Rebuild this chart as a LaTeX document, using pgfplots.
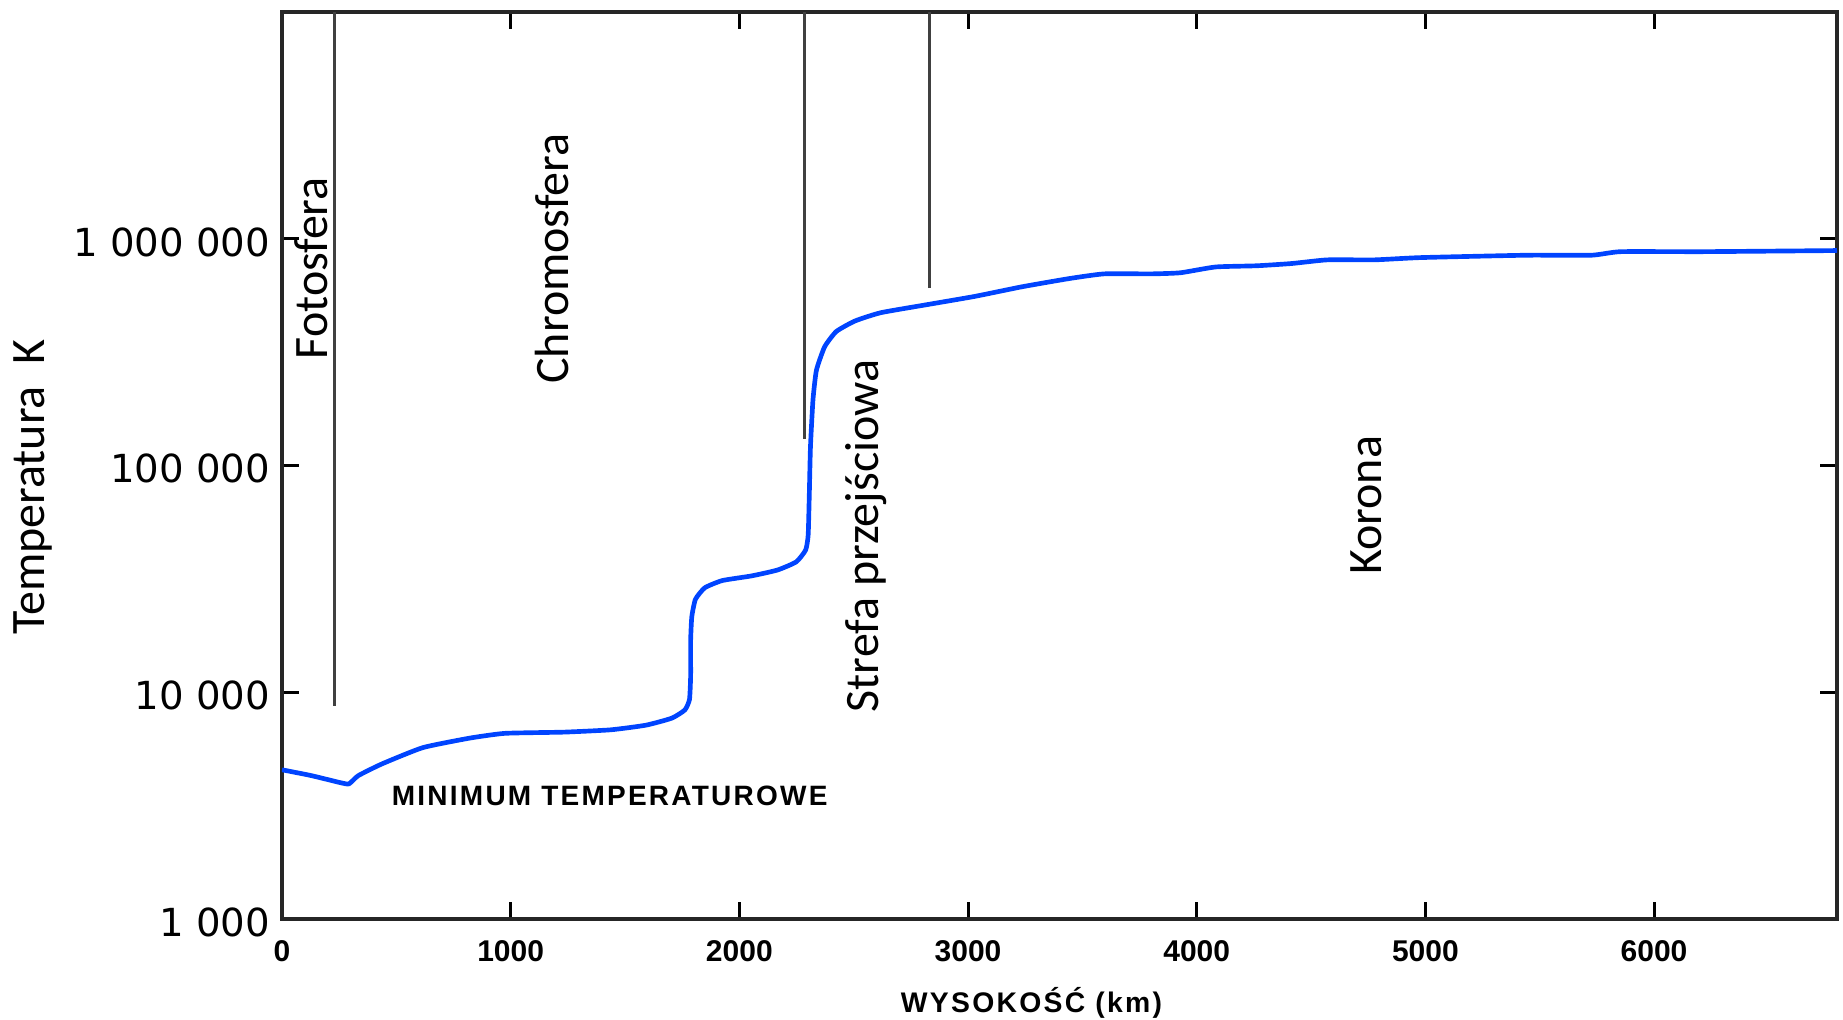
\documentclass[border=0pt]{standalone}
\usepackage{pgfplots}
\pgfplotsset{compat=1.18}
\usepackage{fontspec}
\setmainfont{Liberation Sans}
\newfontfamily\carl{Carlito}
\newfontfamily\dejavu{DejaVu Sans}
\newfontfamily\arialsp[LetterSpace=8]{Liberation Sans}
\newfontfamily\arialbsp[LetterSpace=8]{Liberation Sans}
\definecolor{curve}{RGB}{0,68,255}
\begin{document}
\begin{tikzpicture}
\begin{axis}[
 scale only axis, width=466.5pt, height=272.1pt,
 xmin=0, xmax=6800, ymode=log, ymin=1000, ymax=1e7,
 axis line style={black!85, line width=1pt},
 tick style={black, line width=0.9pt},
 major tick length=5pt,
 tick align=inside,
 xtick={0,1000,2000,3000,4000,5000,6000},
 xticklabels={0,1000,2000,3000,4000,5000,6000},
 xticklabel style={font=\bfseries\fontsize{9}{10}\selectfont, yshift=-3pt},
 ytick={1000,10000,100000,1000000},
 yticklabels={1 000,10 000,100 000,1 000 000},
 yticklabel style={font=\dejavu\fontsize{11.6}{12}\selectfont, yshift=-1pt},
 yminorticks=false, xminorticks=false,
 xlabel={WYSOKOŚĆ (km)},
 xlabel style={font=\arialbsp\bfseries\fontsize{8.5}{10}\selectfont, at={(axis description cs:0.482,-0.0926)}, anchor=center},
 ylabel={Temperatura\ \ K},
 ylabel style={font=\carl\fontsize{14.4}{16}\selectfont, at={(axis description cs:-0.160,0.476)}, anchor=center},
]
\addplot[curve, line width=1.4pt, smooth, tension=0.3] coordinates {
(0,4550) (128,4290) (257,3990) (293,3945) (334,4290) (437,4830) (616,5700)
(822,6280) (976,6590) (1233,6670) (1438,6830) (1592,7160) (1705,7690)
(1762,8360) (1782,9300) (1787,11800) (1787,16900) (1792,21500) (1808,25700)
(1849,28900) (1926,31100) (2054,32600) (2167,34600) (2249,37600) (2290,42400)
(2301,49400) (2306,75100) (2311,121000) (2322,195000) (2337,263000)
(2373,334000) (2424,390000) (2506,434000) (2619,472000) (2825,513000)
(3030,557000) (3236,614000) (3441,667000) (3595,700000) (3801,700000)
(3929,708000) (4083,751000) (4263,760000) (4417,778000) (4571,807000)
(4777,807000) (4982,826000) (5444,846000) (5727,846000) (5855,877000)
(6215,877000) (6800,887000)
};
\addplot[black!75, line width=0.9pt] coordinates {(230,8700) (230,1e7)};
\addplot[black!75, line width=0.9pt] coordinates {(2286,131000) (2286,1e7)};
\addplot[black!75, line width=0.9pt] coordinates {(2830,605000) (2830,1e7)};
\node[rotate=90, font=\carl\fontsize{14.4}{16}\selectfont] at (axis cs:128,741000) {Fotosfera};
\node[rotate=90, font=\carl\fontsize{14.4}{16}\selectfont] at (axis cs:1181,817000) {Chromosfera};
\node[rotate=90, font=\carl\fontsize{14.4}{16}\selectfont] at (axis cs:2553,48900) {Strefa przejściowa};
\node[rotate=90, font=\carl\fontsize{14.4}{16}\selectfont] at (axis cs:4741,66700) {Korona};
\node[font=\arialsp\bfseries\fontsize{8.4}{10}\selectfont] at (axis cs:1433,3500) {MINIMUM TEMPERATUROWE};
\end{axis}
\pgfresetboundingbox
\path[use as bounding box] ([shift={(-84.6pt,-30pt)}]current axis.south west) rectangle ([shift={(1.8pt,3.6pt)}]current axis.north east);
\end{tikzpicture}
\end{document}
